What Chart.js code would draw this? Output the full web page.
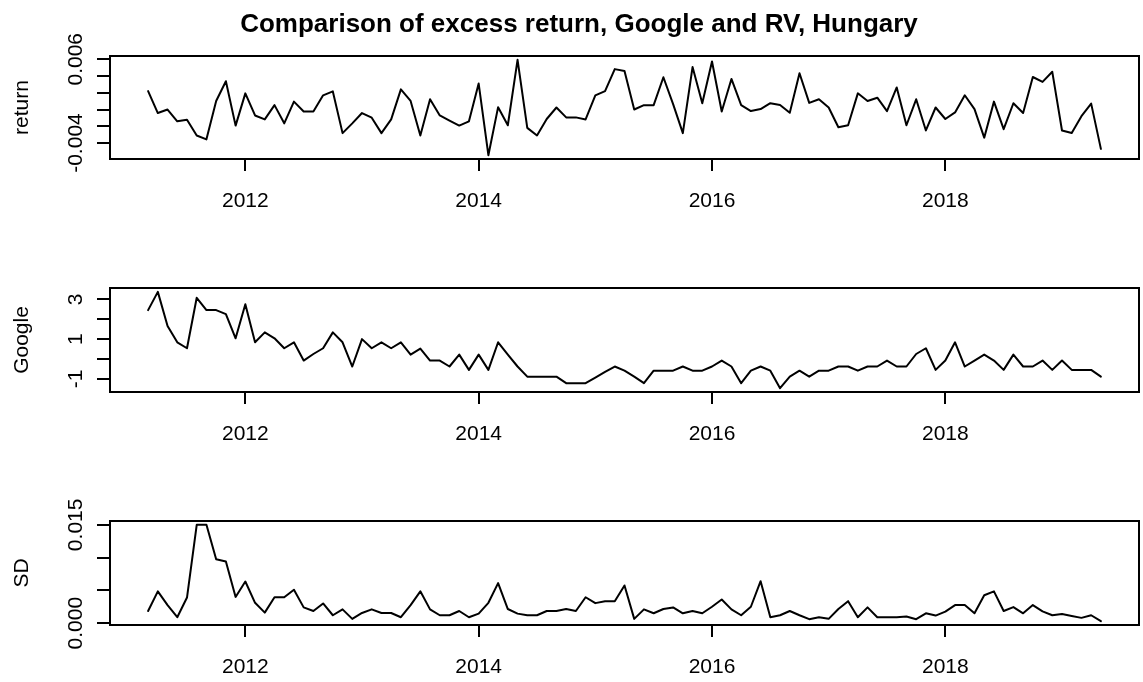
<!DOCTYPE html>
<html lang="en">
<head>
<meta charset="UTF-8">
<title>Comparison of excess return, Google and RV, Hungary</title>
<script src="https://cdn.jsdelivr.net/npm/chart.js"></script>
<style>
    html, body { margin: 0; padding: 0; background: #ffffff; }
    #page { position: relative; width: 1143px; height: 682px; overflow: hidden; background: #ffffff; }
    #page canvas { position: absolute; left: 0; }
</style>
</head>
<body>
<div id="page">
    <canvas id="returnChart" width="1143" height="227" style="top:0px"></canvas>
    <canvas id="googleChart" width="1143" height="227" style="top:227px"></canvas>
    <canvas id="sdChart" width="1143" height="228" style="top:454px"></canvas>
</div>
<script>
// monthly series, first observation March 2011
const startYear = 2011;
const startMonth = 3;

const returnValues = [
    0.0022, -0.00042, 0.0, -0.00141, -0.00121, -0.0031, -0.00356, 0.00102, 0.00338, -0.00192,
    0.00193, -0.00071, -0.00118, 0.00052, -0.00165, 0.00094, -0.00024, -0.00024, 0.00169, 0.00216,
    -0.00282, -0.00165, -0.00042, -0.00098, -0.00282, -0.00118, 0.0024, 0.00102, -0.0031, 0.00122,
    -0.00071, -0.00133, -0.00192, -0.00141, 0.0031, -0.00545, 0.00028, -0.00188, 0.00593, -0.00219,
    -0.0031, -0.00113, 0.00024, -0.00094, -0.00094, -0.00118, 0.00169, 0.0022, 0.00482, 0.00459,
    0.0, 0.00052, 0.00052, 0.00385, 0.00064, -0.00282, 0.00506, 0.00075, 0.00573, -0.00024,
    0.00365, 0.00052, -0.00019, 0.00005, 0.00075, 0.00055, -0.00039, 0.00432, 0.00079, 0.00122,
    0.00024, -0.00212, -0.00188, 0.00193, 0.00102, 0.00141, -0.00019, 0.00263, -0.00188, 0.00122,
    -0.0025, 0.00024, -0.00113, -0.00035, 0.0017, 0.00005, -0.00336, 0.00094, -0.00235, 0.00075,
    -0.00042, 0.00388, 0.0033, 0.0045, -0.0025, -0.0028, -0.0008, 0.0007, -0.0047
];

const googleValues = [
    2.46, 3.38, 1.66, 0.84, 0.54, 3.08, 2.46, 2.46, 2.26, 1.04,
    2.76, 0.84, 1.34, 1.04, 0.54, 0.84, -0.08, 0.25, 0.54, 1.34,
    0.84, -0.38, 1.0, 0.54, 0.84, 0.54, 0.84, 0.22, 0.52, -0.08,
    -0.08, -0.38, 0.22, -0.55, 0.22, -0.55, 0.84, 0.22, -0.38, -0.89,
    -0.89, -0.89, -0.89, -1.22, -1.22, -1.22, -0.94, -0.65, -0.38, -0.59,
    -0.89, -1.22, -0.59, -0.59, -0.59, -0.38, -0.59, -0.59, -0.38, -0.08,
    -0.38, -1.22, -0.59, -0.38, -0.59, -1.47, -0.89, -0.59, -0.89, -0.59,
    -0.59, -0.38, -0.38, -0.59, -0.38, -0.38, -0.08, -0.38, -0.38, 0.25,
    0.54, -0.55, -0.08, 0.84, -0.38, -0.08, 0.22, -0.08, -0.55, 0.22,
    -0.38, -0.38, -0.08, -0.55, -0.08, -0.55, -0.55, -0.55, -0.89
];

const sdValues = [
    0.00185, 0.00485, 0.00275, 0.0009, 0.0039, 0.015, 0.015, 0.00976, 0.0094, 0.004,
    0.00635, 0.0031, 0.0016, 0.00395, 0.00395, 0.0051, 0.0024, 0.00185, 0.003, 0.0012,
    0.0021, 0.00065, 0.00155, 0.0021, 0.00155, 0.00155, 0.0009, 0.00275, 0.00485, 0.0021,
    0.0012, 0.0012, 0.00185, 0.0009, 0.00145, 0.0031, 0.0061, 0.00215, 0.00145, 0.0012,
    0.0012, 0.00185, 0.00185, 0.00215, 0.00185, 0.00395, 0.00305, 0.00335, 0.00335, 0.00575,
    0.00065, 0.0021, 0.0015, 0.00215, 0.0024, 0.0015, 0.00185, 0.0015, 0.0025, 0.0036,
    0.0021, 0.0012, 0.0025, 0.0064, 0.0009, 0.0012, 0.00185, 0.0012, 0.0006, 0.0009,
    0.00065, 0.00215, 0.00335, 0.0009, 0.0024, 0.0009, 0.0009, 0.0009, 0.001, 0.0006,
    0.0015, 0.00115, 0.00175, 0.00275, 0.00275, 0.0015, 0.00425, 0.00485, 0.00185, 0.00245,
    0.0015, 0.00275, 0.0018, 0.0012, 0.0014, 0.0011, 0.0008, 0.0012, 0.0003
];

const yearTicks = [2012, 2014, 2016, 2018];
const returnTicks = [-0.004, -0.002, 0, 0.002, 0.004, 0.006];
const returnTickLabels = ['-0.004', '', '', '', '', '0.006'];
const googleTicks = [-1, 0, 1, 2, 3];
const googleTickLabels = ['-1', '', '1', '', '3'];
const sdTicks = [0, 0.005, 0.010, 0.015];
const sdTickLabels = ['0.000', '', '', '0.015'];

const mainTitle = 'Comparison of excess return, Google and RV, Hungary';

const FONT = '"Liberation Sans", Arial, Helvetica, sans-serif';
const times = returnValues.map((_, i) => startYear + (startMonth - 1 + i) / 12);

// R style axis limits: data range plus 4% on each side
function padRange(vals) {
    const lo = Math.min(...vals);
    const hi = Math.max(...vals);
    const d = (hi - lo) * 0.04;
    return [lo - d, hi + d];
}
const xRange = padRange(times);

// box around the plot region, rotated y tick labels, main title
const rFrame = {
    id: 'rFrame',
    afterDraw(chart, args, opts) {
        const ctx = chart.ctx;
        const area = chart.chartArea;
        ctx.save();
        ctx.strokeStyle = '#000';
        ctx.lineWidth = 2;
        ctx.strokeRect(area.left, area.top, area.right - area.left, area.bottom - area.top);

        const yScale = chart.scales.y;
        ctx.fillStyle = '#000';
        ctx.font = '21px ' + FONT;
        ctx.textAlign = 'center';
        ctx.textBaseline = 'alphabetic';
        opts.ticks.forEach((v, i) => {
            const label = opts.labels[i];
            if (!label) return;
            const py = yScale.getPixelForValue(v);
            ctx.save();
            ctx.translate(82, py);
            ctx.rotate(-Math.PI / 2);
            ctx.fillText(label, 0, 0);
            ctx.restore();
        });

        if (opts.title) {
            ctx.font = 'bold 26px ' + FONT;
            ctx.textAlign = 'center';
            ctx.fillText(opts.title, 579, 32);
        }
        ctx.restore();
    }
};

function makePanel(canvasId, values, yTicks, yLabels, yTitle, padTop, xHeight, padBottom, title) {
    const yRange = padRange(values);
    const points = values.map((v, i) => ({ x: times[i], y: v }));
    return new Chart(document.getElementById(canvasId).getContext('2d'), {
        type: 'line',
        data: {
            datasets: [{
                data: points,
                borderColor: '#000',
                borderWidth: 2,
                borderJoinStyle: 'round',
                borderCapStyle: 'round',
                pointRadius: 0,
                tension: 0,
                fill: false
            }]
        },
        options: {
            responsive: false,
            animation: false,
            layout: { padding: { left: 0, right: 4, top: padTop, bottom: padBottom } },
            plugins: {
                legend: { display: false },
                tooltip: { enabled: false },
                rFrame: { ticks: yTicks, labels: yLabels, title: title }
            },
            scales: {
                x: {
                    type: 'linear',
                    min: xRange[0],
                    max: xRange[1],
                    afterBuildTicks: (scale) => { scale.ticks = yearTicks.map(v => ({ value: v })); },
                    afterFit: (scale) => { scale.height = xHeight; },
                    ticks: {
                        autoSkip: false,
                        color: '#000',
                        padding: 18,
                        font: { family: FONT, size: 21 },
                        callback: (v) => String(v)
                    },
                    grid: { drawOnChartArea: false, drawTicks: true, tickLength: 12, color: '#000', lineWidth: 2 },
                    border: { display: false }
                },
                y: {
                    type: 'linear',
                    min: yRange[0],
                    max: yRange[1],
                    afterBuildTicks: (scale) => { scale.ticks = yTicks.map(v => ({ value: v })); },
                    afterFit: (scale) => { scale.width = 110; },
                    ticks: { callback: () => '' },
                    grid: { drawOnChartArea: false, drawTicks: true, tickLength: 13, color: '#000', lineWidth: 2 },
                    border: { display: false },
                    title: {
                        display: true,
                        text: yTitle,
                        color: '#000',
                        font: { family: FONT, size: 21 },
                        padding: { top: 10, bottom: 0 }
                    }
                }
            }
        },
        plugins: [rFrame]
    });
}

makePanel('returnChart', returnValues, returnTicks, returnTickLabels, 'return', 56, 60, 8, mainTitle);
makePanel('googleChart', googleValues, googleTicks, googleTickLabels, 'Google', 61, 60, 2, null);
makePanel('sdChart', sdValues, sdTicks, sdTickLabels, 'SD', 67, 57, 0, null);
</script>
</body>
</html>
